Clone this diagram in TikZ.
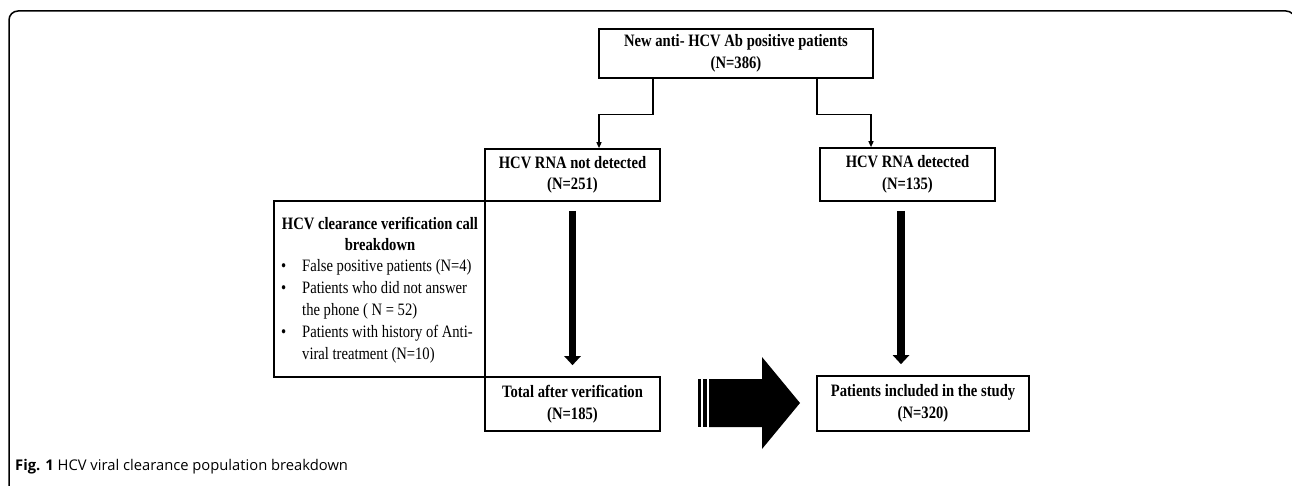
\documentclass[tikz,border=0pt]{standalone}
\usepackage{fontspec}
\setmainfont{Liberation Serif}[FakeStretch=0.84]
\newfontfamily\capfont{Open Sans}
\usetikzlibrary{arrows.meta}
\tikzset{
  box/.style={draw, line width=1.6pt, inner sep=0pt, align=center,
    font=\fontsize{17.4}{21.5}\selectfont\bfseries},
  conn/.style={line width=1.3pt, -{Triangle[length=6pt,width=5pt]}},
  bigarrow/.style={line width=7.5pt, -{Triangle[length=9pt,width=16pt]}},
  frame/.style={line width=1.5pt, rounded corners=9pt},
  bodytext/.style={inner sep=0pt, font=\fontsize{17.4}{21.75}\selectfont, align=left},
  hdrtext/.style={inner sep=0pt, font=\fontsize{17.4}{20}\selectfont\bfseries},
}
\begin{document}
\begin{tikzpicture}[x=1pt,y=1pt]
\useasboundingbox (0,0) rectangle (1292,-486);
\begin{scope}
\clip (0,0) rectangle (1292,-486);
\draw[frame] (9,-520) -- (9,-11) -- (1295,-11) -- (1295,-520);
\end{scope}

\node[box, minimum width=274pt, minimum height=49pt] (top) at (736,-53.5)
  {New anti- HCV Ab positive patients\\(N=386)};
\node[box, minimum width=175pt, minimum height=52pt] (nd) at (572.5,-175)
  {HCV RNA not detected\\(N=251)};
\node[box, minimum width=175pt, minimum height=53pt] (det) at (907.5,-174.5)
  {HCV RNA detected\\(N=135)};
\node[box, minimum width=211pt, minimum height=176pt] (brk) at (379.5,-289) {};
\node[box, minimum width=175pt, minimum height=54pt] (tot) at (572.5,-404)
  {Total after verification\\(N=185)};
\node[box, minimum width=212pt, minimum height=55pt] (inc) at (923,-403.5)
  {Patients included in the study\\(N=320)};

% breakdown text
\node[hdrtext, anchor=base] (h1) at (380,-230) {HCV clearance verification call};
\node[hdrtext, anchor=base] (h2) at (380,-250.5) {breakdown};
\node[bodytext, anchor=base west] (b1) at (281,-272)
  {\makebox[21pt][l]{•}False positive patients (N=4)};
\node[bodytext, anchor=base west] (b2) at (281,-293.75)
  {\makebox[21pt][l]{•}Patients who did not answer};
\node[bodytext, anchor=base west] (b3) at (302,-315.5)
  {the phone ( N = 52)};
\node[bodytext, anchor=base west] (b4) at (281,-337.25)
  {\makebox[21pt][l]{•}Patients with history of Anti-};
\node[bodytext, anchor=base west] (b5) at (302,-359)
  {viral treatment (N=10)};

% connectors
\coordinate (a1) at ([xshift=-83pt]top.south);
\coordinate (a2) at ([xshift=81pt]top.south);
\draw[conn] (a1) -- ++(0,-36) -| ([xshift=26.5pt]nd.north);
\draw[conn] (a2) -- ++(0,-36) -| ([xshift=-36.5pt]det.north);

% thick arrows
\draw[bigarrow, shorten <=9pt, shorten >=11pt] (nd.south) -- (tot.north);
\coordinate (ra) at ([xshift=-6.5pt]det.south);
\draw[bigarrow, shorten <=9pt, shorten >=11pt] (ra) -- (ra |- inc.north);

% block arrow
\fill (709,-379) -- (762,-379) -- (762,-357) -- (800,-403) -- (762,-449)
  -- (762,-427) -- (709,-427) -- cycle;
\fill (698,-379) rectangle (700.6,-427);
\fill (702.6,-379) rectangle (707,-427);

% caption
\node[inner sep=0pt, anchor=base west, font=\capfont\fontsize{14.75}{18}\selectfont] (cap) at (15,-470)
  {\textbf{Fig. 1} HCV viral clearance population breakdown};
\end{tikzpicture}
\end{document}
